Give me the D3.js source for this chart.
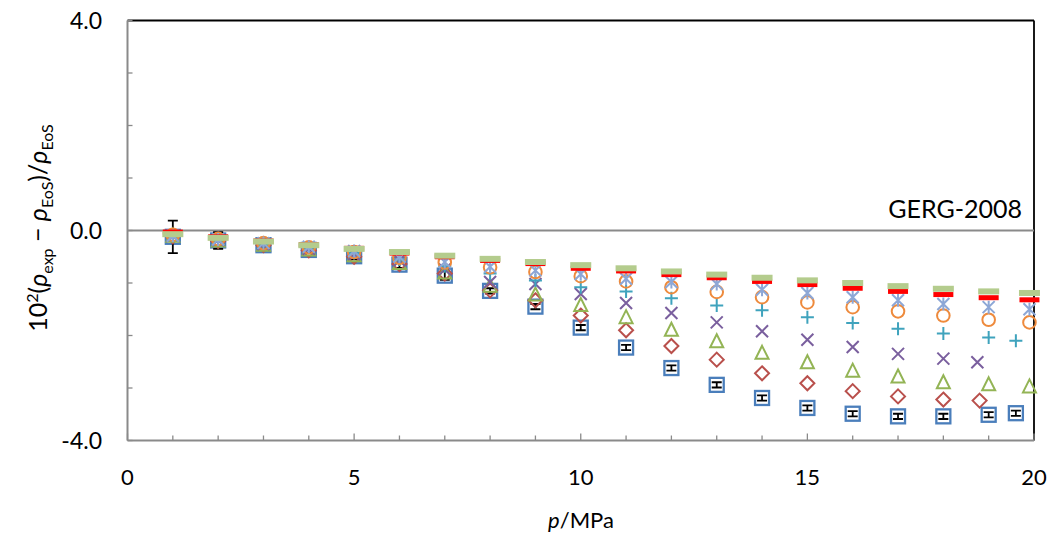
<!DOCTYPE html>
<html>
<head>
<meta charset="utf-8">
<script src="https://cdn.jsdelivr.net/npm/d3@7"></script>
<style>
  html, body { margin: 0; padding: 0; background: #fff; }
  svg { display: block; font-family: Lato, "Open Sans", sans-serif; }
</style>
</head>
<body>
<svg id="chart" width="1049" height="533"></svg>
<script>
// pressures (MPa) and relative deviations 10^2 (rho_exp - rho_EoS)/rho_EoS
const P_BASE = [1, 2, 3, 4, 5, 6, 7, 8, 9, 10, 11, 12, 13, 14, 15, 16, 17, 18, 19];

const pSquare = [...P_BASE, 19.6];
const vSquare = [-0.12, -0.19, -0.28, -0.37, -0.49, -0.65, -0.86, -1.15, -1.45, -1.85, -2.23, -2.62, -2.94, -3.19, -3.38, -3.49, -3.54, -3.54, -3.51, -3.48];
const eSquare = [0.31, 0.16, 0.06, 0.06, 0.06, 0.06, 0.08, 0.05, 0.05, 0.05, 0.05, 0.05, 0.05, 0.05, 0.05, 0.05, 0.05, 0.05, 0.05, 0.05];

const pDiamond = [...P_BASE.slice(0, 18), 18.8];
const vDiamond = [-0.11, -0.2, -0.28, -0.38, -0.5, -0.64, -0.82, -1.14, -1.33, -1.62, -1.9, -2.2, -2.46, -2.72, -2.91, -3.06, -3.16, -3.22, -3.24];

const pTriangle = [...P_BASE, 19.9];
const vTriangle = [-0.1, -0.19, -0.27, -0.36, -0.47, -0.62, -0.8, -1.05, -1.22, -1.42, -1.65, -1.89, -2.11, -2.33, -2.51, -2.67, -2.78, -2.89, -2.93, -2.97];

const pCross = [...P_BASE.slice(0, 18), 18.75];
const vCross = [-0.1, -0.18, -0.26, -0.35, -0.45, -0.57, -0.74, -0.98, -1.02, -1.21, -1.38, -1.57, -1.75, -1.92, -2.08, -2.22, -2.35, -2.44, -2.51];

const pPlus = [...P_BASE, 19.6];
const vPlus = [-0.09, -0.17, -0.25, -0.33, -0.43, -0.55, -0.68, -0.82, -0.95, -1.08, -1.16, -1.29, -1.43, -1.52, -1.65, -1.76, -1.87, -1.96, -2.04, -2.1];

const pCircle = [...P_BASE, 19.9];
const vCircle = [-0.08, -0.16, -0.24, -0.32, -0.41, -0.52, -0.61, -0.7, -0.79, -0.87, -0.97, -1.08, -1.17, -1.27, -1.37, -1.46, -1.54, -1.62, -1.7, -1.75];

const pStar = [...P_BASE, 19.9];
const vStar = [-0.1, -0.17, -0.24, -0.31, -0.39, -0.5, -0.6, -0.69, -0.76, -0.83, -0.92, -0.98, -1.02, -1.13, -1.19, -1.27, -1.33, -1.4, -1.46, -1.5];

const pRed = [...P_BASE, 19.9];
const vRed = [-0.03, -0.12, -0.2, -0.27, -0.34, -0.43, -0.5, -0.57, -0.63, -0.72, -0.77, -0.84, -0.9, -0.97, -1.03, -1.1, -1.16, -1.22, -1.28, -1.32];

const pGreen = [...P_BASE, 19.9];
const vGreen = [-0.07, -0.14, -0.21, -0.28, -0.35, -0.41, -0.48, -0.54, -0.6, -0.66, -0.72, -0.78, -0.84, -0.9, -0.95, -1.0, -1.06, -1.11, -1.16, -1.19];

const X_TICKS = [0, 5, 10, 15, 20];
const Y_TICKS = [-4, 0, 4];

const SERIES = [
  { p: pSquare, v: vSquare, err: eSquare, shape: 'square', color: '#4A7EBB' },
  { p: pDiamond, v: vDiamond, shape: 'diamond', color: '#B9504C' },
  { p: pTriangle, v: vTriangle, shape: 'triangle', color: '#93B455' },
  { p: pCross, v: vCross, shape: 'cross', color: '#7A5F9E' },
  { p: pPlus, v: vPlus, shape: 'plus', color: '#3FA3BD' },
  { p: pCircle, v: vCircle, shape: 'circle', color: '#EE8A3C' },
  { p: pStar, v: vStar, shape: 'star', color: '#8DA7D6' },
  { p: pRed, v: vRed, shape: 'dash', color: '#FF0000', w: 20, h: 5 },
  { p: pGreen, v: vGreen, shape: 'dash', color: '#B4CC8D', w: 21, h: 6 },
];

const svg = d3.select('#chart');
const plotL = 127.5, plotR = 1034, plotT = 20.5, plotB = 440.5;
const x = d3.scaleLinear().domain([0, 20]).range([plotL, plotR]);
const y = d3.scaleLinear().domain([-4, 4]).range([plotB, plotT]);
const AXIS = '#8A8A8A';

// frame: black top/right, grey axes
svg.append('line').attr('x1', plotL).attr('x2', plotR).attr('y1', plotT).attr('y2', plotT)
  .attr('stroke', '#000').attr('stroke-width', 1.8);
svg.append('line').attr('x1', plotR).attr('x2', plotR).attr('y1', plotT).attr('y2', plotB)
  .attr('stroke', '#000').attr('stroke-width', 1.8);

// zero reference line
svg.append('line').attr('x1', plotL).attr('x2', plotR).attr('y1', y(0)).attr('y2', y(0))
  .attr('stroke', AXIS).attr('stroke-width', 2);

// x axis, ticks pointing inside
const xAxis = svg.append('g');
xAxis.selectAll('line.tick').data(d3.range(0, 21)).join('line')
  .attr('x1', d => x(d)).attr('x2', d => x(d))
  .attr('y1', plotB).attr('y2', d => plotB - (d % 5 === 0 ? 7 : 5))
  .attr('stroke', AXIS).attr('stroke-width', 1.3);
xAxis.append('line').attr('x1', plotL).attr('x2', plotR).attr('y1', plotB).attr('y2', plotB)
  .attr('stroke', AXIS).attr('stroke-width', 2);
xAxis.selectAll('text').data(X_TICKS).join('text')
  .attr('x', d => x(d)).attr('y', 485)
  .attr('text-anchor', 'middle').attr('font-size', 22).attr('fill', '#000')
  .text(d => d);

// y axis
const yAxis = svg.append('g');
yAxis.selectAll('line.tick').data(d3.range(-4, 5)).join('line')
  .attr('x1', plotL).attr('x2', plotL + 5)
  .attr('y1', d => y(d)).attr('y2', d => y(d))
  .attr('stroke', AXIS).attr('stroke-width', 1.3);
yAxis.append('line').attr('x1', plotL).attr('x2', plotL).attr('y1', plotT).attr('y2', plotB)
  .attr('stroke', AXIS).attr('stroke-width', 2);
yAxis.selectAll('text').data(Y_TICKS).join('text')
  .attr('x', 102).attr('y', d => y(d) + 8)
  .attr('text-anchor', 'end').attr('font-size', 23).attr('fill', '#000')
  .text(d => d.toFixed(1));

// axis titles
const xt = svg.append('text').attr('x', 581).attr('y', 528).attr('text-anchor', 'middle')
  .attr('font-size', 22).attr('fill', '#000');
xt.append('tspan').attr('font-style', 'italic').text('p');
xt.append('tspan').text('/MPa');

const yt = svg.append('text').attr('transform', 'translate(47,228) rotate(-90)')
  .attr('text-anchor', 'middle').attr('font-size', 25).attr('fill', '#000');
yt.append('tspan').text('10');
yt.append('tspan').attr('dy', -9).attr('font-size', 16).text('2');
yt.append('tspan').attr('dy', 9).text('(');
yt.append('tspan').attr('font-style', 'italic').text('ρ');
yt.append('tspan').attr('dy', 6).attr('font-size', 16).text('exp');
yt.append('tspan').attr('dy', -6).text(' − ');
yt.append('tspan').attr('font-style', 'italic').text('ρ');
yt.append('tspan').attr('dy', 6).attr('font-size', 16).text('EoS');
yt.append('tspan').attr('dy', -6).text(')/');
yt.append('tspan').attr('font-style', 'italic').text('ρ');
yt.append('tspan').attr('dy', 6).attr('font-size', 16).text('EoS');

svg.append('text').attr('x', 1022).attr('y', 218).attr('text-anchor', 'end')
  .attr('font-size', 25).attr('fill', '#000').text('GERG-2008');

// markers
function drawMarker(g, s) {
  const c = s.color;
  const sw = 2;
  switch (s.shape) {
    case 'square':
      g.append('rect').attr('x', -7).attr('y', -7).attr('width', 14).attr('height', 14)
        .attr('fill', '#fff').attr('stroke', c).attr('stroke-width', 2.3);
      break;
    case 'diamond':
      g.append('path').attr('d', 'M0,-7L7,0L0,7L-7,0Z')
        .attr('fill', 'none').attr('stroke', c).attr('stroke-width', sw);
      break;
    case 'triangle':
      g.append('path').attr('d', 'M0,-7L6.5,6L-6.5,6Z')
        .attr('fill', 'none').attr('stroke', c).attr('stroke-width', sw);
      break;
    case 'cross':
      g.append('path').attr('d', 'M-6,-6L6,6M-6,6L6,-6')
        .attr('stroke', c).attr('stroke-width', sw);
      break;
    case 'plus':
      g.append('path').attr('d', 'M-6.5,0H6.5M0,-6.5V6.5')
        .attr('stroke', c).attr('stroke-width', sw);
      break;
    case 'circle':
      g.append('circle').attr('r', 6.3)
        .attr('fill', 'none').attr('stroke', c).attr('stroke-width', sw);
      break;
    case 'star':
      g.append('path').attr('d', 'M-6,-6L6,6M-6,6L6,-6M0,-6.5V6.5')
        .attr('stroke', c).attr('stroke-width', sw);
      break;
    case 'dash':
      g.append('rect').attr('x', -s.w / 2).attr('y', -s.h / 2)
        .attr('width', s.w).attr('height', s.h).attr('fill', c);
      break;
  }
}

SERIES.forEach(s => {
  const pts = s.p.map((p, i) => ({ p, v: s.v[i], e: s.err ? s.err[i] : 0 }));
  const layer = svg.append('g');
  layer.selectAll('g').data(pts).join('g')
    .attr('transform', d => `translate(${x(d.p)},${y(d.v)})`)
    .each(function (d) { drawMarker(d3.select(this), s); });
  if (s.err) {
    const eb = layer.append('g');
    pts.forEach(d => {
      const y0 = y(d.v - d.e), y1 = y(d.v + d.e), cx = x(d.p);
      eb.append('path')
        .attr('d', `M${cx},${y0}V${y1}M${cx - 5},${y0}H${cx + 5}M${cx - 5},${y1}H${cx + 5}`)
        .attr('stroke', '#000').attr('stroke-width', 1.8).attr('fill', 'none');
    });
  }
});
</script>
</body>
</html>
